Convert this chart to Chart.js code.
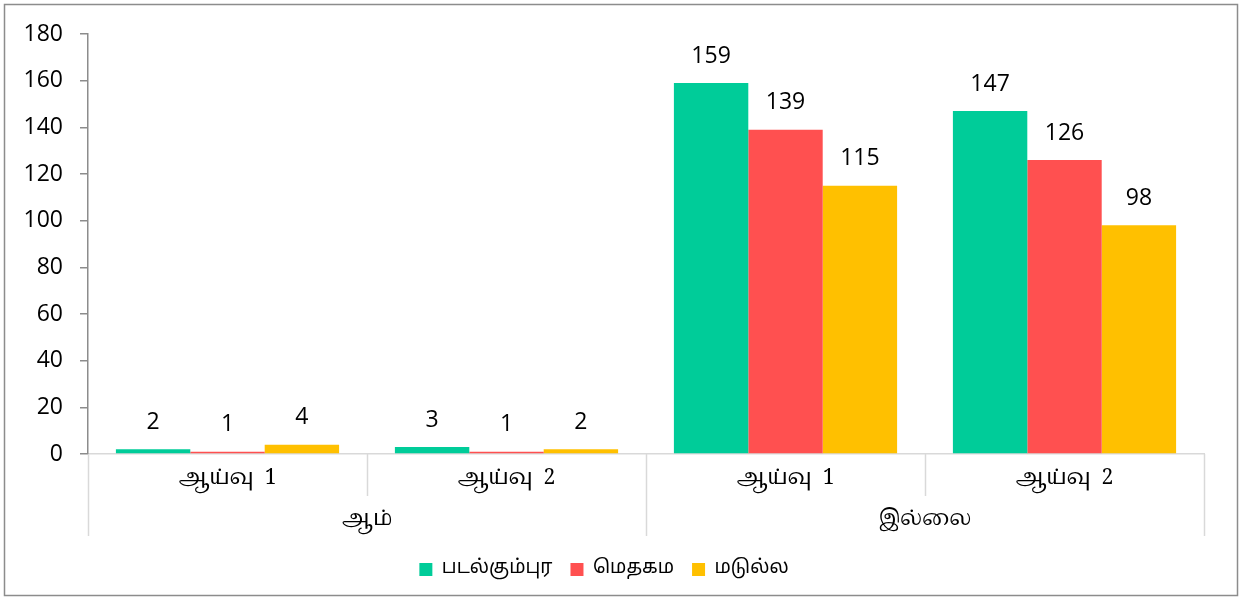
<!DOCTYPE html>
<html>
<head>
<meta charset="utf-8">
<script src="https://cdn.jsdelivr.net/npm/chart.js@4.4.1/dist/chart.umd.min.js"></script>
<style>
    html, body { margin: 0; padding: 0; background: #fff; }
    #wrap { width: 1242px; height: 600px; position: relative; }
</style>
</head>
<body>
<div id="wrap"><canvas id="studyChart"></canvas></div>
<script>
const categories = ['ஆய்வு  1', 'ஆய்வு  2', 'ஆய்வு  1', 'ஆய்வு  2'];
const groups = ['ஆம்', 'இல்லை'];
const seriesNames = ['படல்கும்புர', 'மெதகம', 'மடுல்ல'];
const padalkumbura = [2, 3, 159, 147];
const medagama = [1, 1, 139, 126];
const madulla = [4, 2, 115, 98];
const yTicks = [0, 20, 40, 60, 80, 100, 120, 140, 160, 180];

const colors = ['#00CC99', '#FF5050', '#FFC000'];
const tamilFont = "Latha, 'Noto Serif Tamil', 'Noto Sans Tamil', 'Liberation Serif', serif";
const numFont = "'Open Sans', 'Liberation Sans', sans-serif";

// two level category labels, dividers, value labels and outer border
const extrasPlugin = {
    id: 'extras',
    afterDraw(chart) {
        const ctx = chart.ctx;
        const x = chart.scales.x;
        const area = chart.chartArea;
        const step = (x.right - x.left) / categories.length;
        const axisY = area.bottom;

        ctx.save();
        ctx.strokeStyle = '#d9d9d9';
        ctx.lineWidth = 1.5;
        for (let i = 0; i <= categories.length; i++) {
            const px = Math.round(x.left + step * i) + 0.5;
            const full = (i % 2 === 0);
            ctx.beginPath();
            ctx.moveTo(px, axisY);
            ctx.lineTo(px, axisY + (full ? 82 : 42));
            ctx.stroke();
        }

        ctx.fillStyle = '#000';
        ctx.textAlign = 'center';
        ctx.textBaseline = 'middle';
        ctx.font = '21px ' + tamilFont;
        categories.forEach((c, i) => {
            ctx.fillText(c, x.getPixelForValue(i), axisY + 26);
        });
        groups.forEach((g, gi) => {
            const cx = (x.getPixelForValue(gi * 2) + x.getPixelForValue(gi * 2 + 1)) / 2;
            ctx.fillText(g, cx, axisY + 67);
        });

        // value labels
        ctx.font = '23px ' + numFont;
        chart.data.datasets.forEach((ds, di) => {
            const meta = chart.getDatasetMeta(di);
            meta.data.forEach((bar, i) => {
                ctx.fillText(String(ds.data[i]), bar.x, bar.y - 27);
            });
        });

        // chart border
        ctx.strokeStyle = '#8c8c8c';
        ctx.lineWidth = 1.5;
        ctx.strokeRect(4.5, 4.5, chart.width - 9, chart.height - 9);
        ctx.restore();
    }
};

const ctx = document.getElementById('studyChart');

new Chart(ctx, {
    type: 'bar',
    data: {
        labels: categories,
        datasets: seriesNames.map((name, i) => ({
            label: name,
            data: [padalkumbura, medagama, madulla][i],
            backgroundColor: colors[i],
            borderWidth: 0,
            categoryPercentage: 0.8,
            barPercentage: 1
        }))
    },
    options: {
        responsive: true,
        maintainAspectRatio: false,
        animation: false,
        devicePixelRatio: 1,
        layout: {
            padding: { left: 4, right: 38, top: 34, bottom: 11 }
        },
        plugins: {
            legend: {
                position: 'bottom',
                labels: {
                    boxWidth: 13,
                    boxHeight: 13,
                    padding: 18,
                    color: '#000',
                    font: { size: 19, family: "'Noto Sans Tamil', 'Latha', 'Noto Sans', sans-serif" }
                }
            },
            tooltip: { enabled: false }
        },
        scales: {
            x: {
                grid: { display: false },
                border: { display: true, color: '#d9d9d9', width: 1.5 },
                ticks: { display: false },
                afterFit: (scale) => { scale.height = 88; }
            },
            y: {
                min: 0,
                max: 180,
                afterBuildTicks: (scale) => {
                    scale.ticks = yTicks.map(v => ({ value: v }));
                },
                grid: {
                    drawOnChartArea: false,
                    drawTicks: true,
                    tickLength: 8,
                    color: '#8c8c8c',
                    lineWidth: 1.5
                },
                border: { display: true, color: '#8c8c8c', width: 1.5 },
                ticks: {
                    color: '#000',
                    padding: 17,
                    font: { size: 23, family: numFont }
                },
                afterFit: (scale) => { scale.width = 84; }
            }
        }
    },
    plugins: [extrasPlugin]
});
</script>
</body>
</html>
